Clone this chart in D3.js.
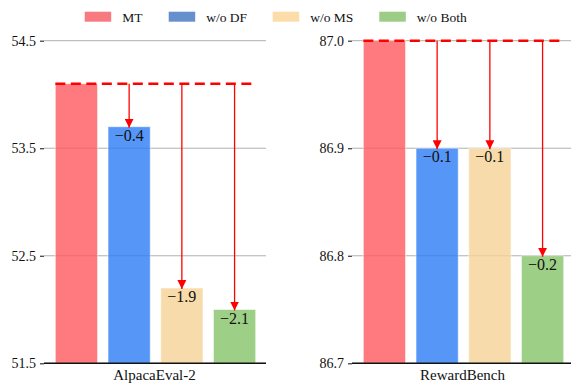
<!DOCTYPE html>
<html><head><meta charset="utf-8">
<script src="https://cdn.jsdelivr.net/npm/d3@7"></script>
</head><body style="margin:0;background:#fff">
<svg id="chart" width="571" height="383" style="display:block"></svg>
<script>
const series = ["MT", "w/o DF", "w/o MS", "w/o Both"];
const benchmarks = ["AlpacaEval-2", "RewardBench"];
const alpacaValues = [54.1, 53.7, 52.2, 52.0];
const rewardValues = [87.0, 86.9, 86.9, 86.8];
const alpacaDeltas = ["", "\u22120.4", "\u22121.9", "\u22122.1"];
const rewardDeltas = ["", "\u22120.1", "\u22120.1", "\u22120.2"];
const alpacaTicks = [51.5, 52.5, 53.5, 54.5];
const rewardTicks = [86.7, 86.8, 86.9, 87.0];
const alpacaDomain = [51.5, 54.5];
const rewardDomain = [86.7, 87.0];

const barColors = ["#ff595e", "#2b7cf5", "#f6d295", "#84c368"];
const legendColors = ["#f77a80", "#6690cc", "#fcdca8", "#9ccc85"];
const FONT = "Liberation Serif, Times New Roman, Tinos, serif";

const svg = d3.select("#chart").attr("font-family", FONT).style("font-family", FONT);

const defs = svg.append("defs");
defs.append("marker").attr("id", "ah").attr("viewBox", "0 0 10 10")
  .attr("refX", 10).attr("refY", 5).attr("markerWidth", 9).attr("markerHeight", 9)
  .attr("markerUnits", "userSpaceOnUse").attr("orient", "auto")
  .append("path").attr("d", "M0,0L10,5L0,10Z").attr("fill", "#ff0000");

const plotTop = 40.7, plotBottom = 363.3;

function txt(sel) {
  return sel.attr("font-family", FONT).style("font-family", FONT).attr("fill", "#111");
}

function panel(x0, x1, values, deltas, ticks, domain, label) {
  const g = svg.append("g");
  const x = d3.scaleBand().domain(series).range([x0, x1]).paddingInner(0.2).paddingOuter(0.215);
  const y = d3.scaleLinear().domain(domain).range([plotBottom, plotTop]);
  // grid
  g.append("g").selectAll("line").data(ticks).join("line")
    .attr("x1", x0).attr("x2", x1 - 1).attr("y1", d => y(d)).attr("y2", d => y(d))
    .attr("stroke", "#b0b0b0").attr("stroke-width", 1);
  // y axis
  const ax = d3.axisLeft(y).tickValues(ticks).tickFormat(d3.format(".1f")).tickSize(4).tickPadding(4);
  const ag = g.append("g").attr("transform", `translate(${x0},0)`).call(ax)
    .attr("font-family", FONT).attr("font-size", 14);
  ag.select(".domain").remove();
  ag.selectAll(".tick line").attr("stroke", "#333").attr("stroke-width", 1.2);
  txt(ag.selectAll(".tick text")).attr("font-size", 14);
  // bars
  g.append("g").selectAll("rect").data(values).join("rect")
    .attr("x", (d, i) => x(series[i])).attr("width", x.bandwidth())
    .attr("y", d => y(d)).attr("height", d => plotBottom - y(d))
    .attr("fill", (d, i) => barColors[i]).attr("fill-opacity", 0.8)
    .attr("stroke", "#ffffff").attr("stroke-opacity", 0.5).attr("stroke-width", 1);
  // bottom spine
  g.append("line").attr("x1", x0).attr("x2", x1 - 1).attr("y1", plotBottom).attr("y2", plotBottom)
    .attr("stroke", "#111").attr("stroke-width", 1.5);
  // dashed reference line
  const ref = y(values[0]);
  g.append("line").attr("x1", x(series[0])).attr("x2", x(series[3]) + x.bandwidth())
    .attr("y1", ref).attr("y2", ref).attr("stroke", "#ff0000").attr("stroke-width", 2.5)
    .attr("stroke-dasharray", "10,5.5");
  // arrows
  for (let i = 1; i < values.length; i++) {
    const cx = x(series[i]) + x.bandwidth() / 2;
    g.append("line").attr("x1", cx).attr("x2", cx).attr("y1", ref).attr("y2", y(values[i]) + 1)
      .attr("stroke", "#ff0000").attr("stroke-width", 1.3).attr("marker-end", "url(#ah)");
    txt(g.append("text")).attr("x", cx).attr("y", y(values[i]) + 14).attr("text-anchor", "middle")
      .attr("font-size", 16).text(deltas[i]);
  }
  // x label
  txt(g.append("text")).attr("x", (x0 + x1) / 2 - 1)
    .attr("y", 380).attr("text-anchor", "middle").attr("font-size", 15).text(label);
}

panel(44, 267, alpacaValues, alpacaDeltas, alpacaTicks, alpacaDomain, benchmarks[0]);
panel(352, 575, rewardValues, rewardDeltas, rewardTicks, rewardDomain, benchmarks[1]);

// legend
const legX = [84.7, 168.7, 272.7, 379.3];
const lg = svg.append("g");
series.forEach((s, i) => {
  lg.append("rect").attr("x", legX[i]).attr("y", 11.7).attr("width", 26.5).attr("height", 10)
    .attr("fill", legendColors[i]);
  txt(lg.append("text")).attr("x", legX[i] + 37.5).attr("y", 21.5).attr("font-size", 13.5).text(s);
});
</script></body></html>
